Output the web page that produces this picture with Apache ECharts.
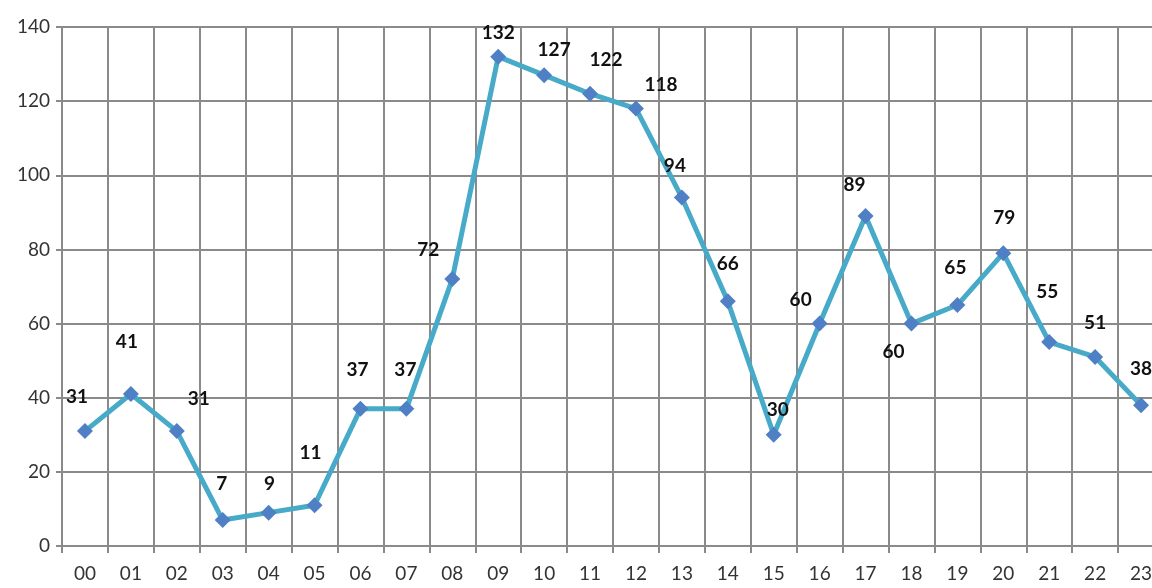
<!DOCTYPE html>
<html>
<head>
<meta charset="utf-8">
<script src="https://cdn.jsdelivr.net/npm/echarts@6/dist/echarts.min.js"></script>
<style>
  html, body { margin: 0; padding: 0; background: #fff; }
  #chart { width: 1152px; height: 588px; }
</style>
</head>
<body>
<div id="chart"></div>
<script>
var hours = ['00','01','02','03','04','05','06','07','08','09','10','11',
             '12','13','14','15','16','17','18','19','20','21','22','23'];
var counts = [31, 41, 31, 7, 9, 11, 37, 37, 72, 132, 127, 122,
              118, 94, 66, 30, 60, 89, 60, 65, 79, 55, 51, 38];
var yTicks = [0, 20, 40, 60, 80, 100, 120, 140];

// label nudges (px from the marker)
var labelShift = [[-8,-34],[-4,-52],[22,-32],[-1,-36],[1,-29],[-4,-52],[-3,-39],[-1,-39],
                  [-24,-29],[0,-24],[10,-25],[16,-34],[25,-24],[-7,-32],[0,-37],[4,-25],
                  [-19,-24],[-11,-31],[-18,28],[-2,-37],[1,-35],[-2,-50],[0,-34],[0,-36]];

var gridColor = '#8a8a8a';
var font = 'Lato, "Noto Sans", sans-serif';

var pts = counts.map(function (v, i) {
  return {
    value: v,
    label: { offset: labelShift[i] }
  };
});

var chart = echarts.init(document.getElementById('chart'));
chart.setOption({
  animation: false,
  grid: { left: 62, top: 27, width: 1102, height: 519, outerBoundsMode: 'none', containLabel: false },
  xAxis: {
    type: 'category',
    data: hours,
    boundaryGap: true,
    axisLine: { show: true, lineStyle: { color: gridColor, width: 2 } },
    axisTick: { show: true, length: 7, lineStyle: { color: gridColor, width: 2 } },
    splitLine: { show: true, lineStyle: { color: gridColor, width: 2 } },
    axisLabel: { color: '#333', fontSize: 19, fontFamily: font, margin: 18 }
  },
  yAxis: {
    type: 'value',
    min: yTicks[0],
    max: yTicks[yTicks.length - 1],
    interval: 20,
    axisLine: { show: true, lineStyle: { color: gridColor, width: 2 } },
    axisTick: { show: true, length: 6, lineStyle: { color: gridColor, width: 2 } },
    splitLine: { show: true, lineStyle: { color: gridColor, width: 2 } },
    axisLabel: { color: '#333', fontSize: 19, fontFamily: font, margin: 12 }
  },
  series: [{
    type: 'line',
    data: pts,
    symbol: 'diamond',
    symbolSize: 16,
    itemStyle: { color: '#4F7FC4' },
    lineStyle: { color: '#46AAC8', width: 5 },
    label: {
      show: true,
      position: 'inside',
      color: '#111',
      fontWeight: 'bold',
      fontSize: 19,
      fontFamily: font
    },
    z: 3
  }]
});
</script>
</body>
</html>
